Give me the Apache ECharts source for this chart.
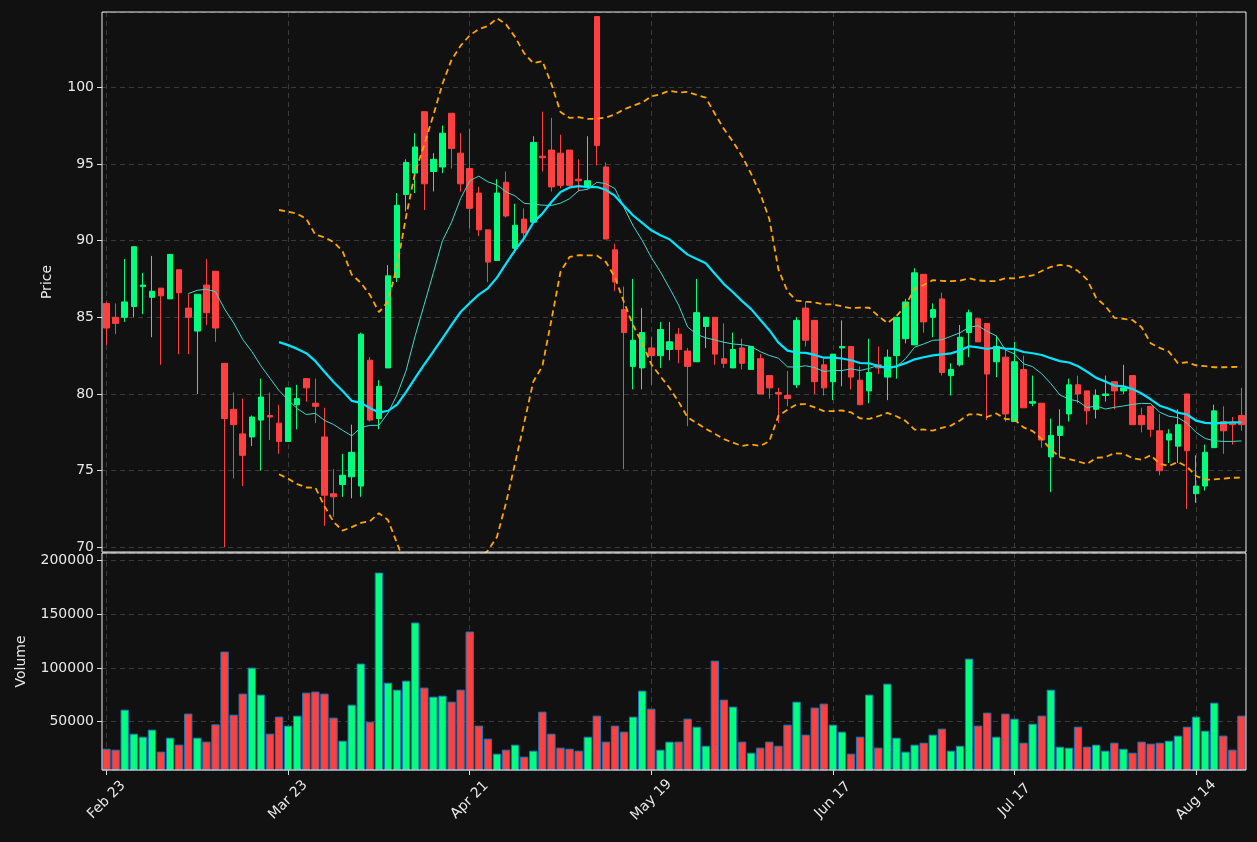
<!DOCTYPE html>
<html><head><meta charset="utf-8">
<script src="https://cdn.jsdelivr.net/npm/echarts@6/dist/echarts.min.js"></script>
<style>html,body{margin:0;padding:0;background:#111111;}#c{width:1257px;height:842px;}</style>
</head><body><div id="c"></div>
<script>
const opens  = [85.9,85.0,85.0,85.7,87.0,86.3,86.9,86.2,88.1,85.6,84.1,87.1,88.0,82.0,79.0,77.4,77.2,78.3,78.6,78.1,
 76.9,79.3,81.0,79.4,77.2,73.5,74.1,74.6,74.0,82.2,78.4,81.7,87.6,93.0,94.4,98.4,94.5,94.8,98.3,95.7,
 94.7,93.1,90.7,88.7,93.8,89.5,91.4,91.2,95.5,95.9,95.7,95.9,94.0,93.5,104.6,94.8,89.4,85.5,81.8,81.7,
 83.0,82.5,82.9,83.9,82.8,82.1,84.4,85.0,82.3,81.7,83.0,81.6,82.3,81.2,80.1,79.9,80.6,85.6,84.8,81.9,
 80.8,83.0,83.1,80.9,80.2,81.9,81.1,82.5,83.6,83.2,87.8,85.0,86.2,81.2,81.9,84.0,84.9,84.6,82.1,82.4,
 78.2,81.6,79.4,79.4,75.9,77.3,78.7,80.6,80.2,79.0,79.9,80.8,80.2,81.2,78.6,79.2,77.6,77.0,76.6,80.0,
 73.5,74.0,76.5,78.2,78.1,78.6];
const closes = [84.3,84.6,86.0,89.6,87.1,86.7,86.4,89.1,86.6,85.0,86.5,85.3,84.3,78.4,78.0,76.0,78.5,79.8,78.5,76.9,
 80.4,79.7,80.4,79.2,73.4,73.3,74.7,76.2,83.9,78.3,80.5,87.7,92.3,95.1,96.1,93.7,95.3,97.0,96.0,93.7,
 92.1,90.7,88.6,93.1,91.6,91.0,90.5,96.4,95.4,93.5,93.6,93.6,93.9,93.9,96.2,90.1,87.3,84.0,83.5,84.0,
 82.5,84.2,83.4,82.9,81.8,85.3,85.0,82.6,82.0,82.9,82.0,83.1,80.0,80.4,80.0,79.7,84.8,83.5,80.8,80.4,
 82.6,83.1,81.1,79.3,81.4,81.7,82.4,85.0,86.0,87.9,84.7,85.5,81.4,81.6,83.7,85.3,83.4,81.3,83.1,78.7,
 82.1,79.1,79.5,77.0,77.3,77.9,80.6,80.0,78.9,79.9,80.0,80.2,80.4,78.0,78.0,77.7,75.0,77.4,78.0,76.3,
 74.0,76.2,78.9,77.6,78.0,78.0];
const lows   = [83.2,83.9,84.7,85.0,85.2,83.7,81.9,86.2,82.6,82.6,80.0,84.5,83.4,70.0,74.5,74.0,76.6,75.0,77.0,76.1,
 76.9,77.7,79.5,78.1,71.4,72.0,73.3,73.2,73.3,78.2,77.7,81.7,87.3,91.9,93.1,92.0,93.2,94.4,94.7,93.2,
 90.8,90.3,87.3,88.7,91.5,89.2,89.9,91.2,94.5,93.2,93.4,93.6,93.2,93.4,94.9,90.1,86.7,75.1,80.3,80.3,
 80.6,81.7,82.2,82.0,77.9,82.1,83.0,81.9,81.7,81.7,81.6,81.6,80.0,79.7,78.1,79.2,80.4,83.1,80.0,79.9,
 79.6,80.5,80.3,79.3,79.4,81.3,79.6,81.0,83.3,83.2,84.0,83.7,81.2,79.9,81.8,82.4,83.4,78.3,81.1,78.2,
 78.2,79.1,79.2,76.5,73.6,75.9,78.2,79.4,78.0,78.4,79.5,79.0,80.0,78.0,77.5,77.2,74.7,75.5,75.5,72.5,
 72.9,73.7,76.5,76.1,76.7,77.6];
const highs  = [86.0,85.9,88.8,89.6,87.9,89.0,86.9,89.1,88.1,86.5,86.5,88.8,88.0,82.0,80.1,79.7,78.6,81.0,80.1,79.3,
 80.4,80.6,81.0,81.0,79.1,75.1,76.1,78.0,84.0,82.4,80.9,88.4,93.1,95.3,97.0,98.4,95.7,97.5,98.3,97.0,
 97.3,93.5,90.7,94.0,94.5,92.4,92.1,96.8,98.4,98.0,96.9,95.9,95.3,96.8,104.6,95.1,89.8,87.0,87.5,85.6,
 83.7,84.7,84.7,84.3,83.0,87.5,85.0,85.0,84.6,84.0,83.6,83.1,82.6,81.2,80.4,81.5,85.0,86.0,84.8,82.3,
 82.6,84.8,83.1,81.8,83.6,83.1,82.9,85.0,86.2,88.2,87.8,85.9,86.6,82.0,84.5,85.5,84.9,84.6,83.8,82.9,
 83.4,82.5,81.2,79.4,78.4,79.0,81.0,81.2,80.2,80.3,81.2,80.8,81.9,81.2,79.1,79.2,78.7,77.7,79.0,80.0,
 76.0,76.7,79.3,79.2,78.5,80.4];
const volumes = [24800,23900,61200,38800,36000,42600,22100,35100,28600,57500,35100,31400,47500,115200,56500,76100,100300,75200,38800,54700,
 46300,55600,77000,78000,76100,53700,32300,65800,104100,50000,188800,86300,79800,88200,142300,81700,73300,74200,68600,79800,
 133900,46300,34200,20200,23900,28600,17400,23000,59300,38800,25800,24800,23000,36000,55600,31400,46300,40700,54700,78900,
 62100,23900,31400,31400,52800,45300,27600,106800,70500,64000,31400,21100,25800,31400,27600,47200,68600,37900,63100,66800,
 47200,40700,20200,36000,75200,25800,85400,35100,22100,28600,30400,37900,43500,23000,27600,108700,46300,58400,36000,57500,
 52800,30400,48100,55600,79800,26700,25800,45300,26700,28600,23000,30400,24800,21100,31400,29500,30400,32300,37000,45300,
 54700,41600,67700,37000,23900,55600];
const holidays = ['2026-04-03','2026-05-25','2026-06-19','2026-07-03'];
const MONTHS = ['Jan','Feb','Mar','Apr','May','Jun','Jul','Aug','Sep','Oct','Nov','Dec'];

const UP = '#00ff7f', DOWN = '#ff4040';
const dates = [];
(function(){
  let d = new Date(Date.UTC(2026,1,23));
  while (dates.length < closes.length) {
    const wd = d.getUTCDay();
    const iso = d.toISOString().slice(0,10);
    if (wd !== 0 && wd !== 6 && holidays.indexOf(iso) < 0) dates.push(MONTHS[d.getUTCMonth()] + ' ' + d.getUTCDate());
    d = new Date(d.getTime() + 86400000);
  }
})();
function ma(n){ return closes.map((c,i)=>{ if(i<n-1) return '-'; let s=0; for(let k=i-n+1;k<=i;k++) s+=closes[k]; return +(s/n).toFixed(3);}); }
function band(n, m){ return closes.map((c,i)=>{ if(i<n-1) return '-'; let s=0; for(let k=i-n+1;k<=i;k++) s+=closes[k]; const mu=s/n; let v=0; for(let k=i-n+1;k<=i;k++) v+=(closes[k]-mu)**2; const sd=Math.sqrt(v/(n-1)); return +(mu+m*sd).toFixed(3);}); }
const ohlc = closes.map((c,i)=>[opens[i], c, lows[i], highs[i]]);
const volData = volumes.map((v,i)=>({value:v, itemStyle:{color: closes[i]>=opens[i]?UP:DOWN}}));

const txt = {color:'#e8e8e8', fontSize:14, fontFamily:'DejaVu Sans'};
const split = {show:true, lineStyle:{color:'#3a3a3a', type:[5,4], width:1}};
const chart = echarts.init(document.getElementById('c'), null, {renderer:'canvas'});
chart.setOption({
  backgroundColor:'#111111',
  animation:false,
  grid:[
    {left:102, right:11, top:12, height:540, show:true, borderColor:'#eeeeee', borderWidth:1, z:5},
    {left:102, right:11, top:553, height:217, show:true, borderColor:'#eeeeee', borderWidth:1, z:5}
  ],
  xAxis:[
    {type:'category', gridIndex:0, data:dates, boundaryGap:true, axisLine:{show:false}, axisTick:{show:false, alignWithLabel:true, interval:19}, axisLabel:{show:false, interval:19}, splitLine:Object.assign({interval:19, alignWithLabel:true}, split)},
    {type:'category', gridIndex:1, data:dates, boundaryGap:true, axisLine:{show:false},
     axisTick:{show:true, interval:19, alignWithLabel:true, length:5, lineStyle:{color:'#dddddd'}},
     axisLabel:Object.assign({interval:19, rotate:45, margin:30, align:'center', verticalAlign:'middle'}, txt), splitLine:Object.assign({interval:19, alignWithLabel:true}, split)}
  ],
  yAxis:[
    {type:'value', gridIndex:0, min:69.7, max:104.9, splitNumber:7, name:'Price', nameLocation:'middle', nameGap:48, nameTextStyle:txt,
     axisLine:{show:false}, axisTick:{show:true, length:5, lineStyle:{color:'#dddddd'}}, axisLabel:Object.assign({showMinLabel:false, showMaxLabel:false}, txt), splitLine:split},
    {type:'value', gridIndex:1, min:5000, max:207000, splitNumber:5, name:'Volume', nameLocation:'middle', nameGap:74, nameTextStyle:txt,
     axisLine:{show:false}, axisTick:{show:true, length:5, lineStyle:{color:'#dddddd'}}, axisLabel:Object.assign({showMinLabel:false, showMaxLabel:false, formatter:v=>String(v)}, txt), splitLine:split}
  ],
  series:[
    {type:'candlestick', xAxisIndex:0, yAxisIndex:0, data:ohlc, barWidth:6,
     itemStyle:{color:UP, color0:DOWN, borderColor:UP, borderColor0:DOWN, borderWidth:1}},
    {type:'line', xAxisIndex:0, yAxisIndex:0, data:ma(10), showSymbol:false, lineStyle:{color:'#3fd9c9', width:1}, z:3},
    {type:'line', xAxisIndex:0, yAxisIndex:0, data:ma(20), showSymbol:false, lineStyle:{color:'#00e5ff', width:2.2}, z:4},
    {type:'line', xAxisIndex:0, yAxisIndex:0, data:band(20,2), showSymbol:false, lineStyle:{color:'#ffa500', width:1.8, type:[6,4]}, z:4},
    {type:'line', xAxisIndex:0, yAxisIndex:0, data:band(20,-2), showSymbol:false, lineStyle:{color:'#ffa500', width:1.8, type:[6,4]}, z:4},
    {type:'bar', xAxisIndex:1, yAxisIndex:1, data:volData, barCategoryGap:'8%', itemStyle:{borderColor:'#1f77b4', borderWidth:1}}
  ]
});
</script></body></html>
